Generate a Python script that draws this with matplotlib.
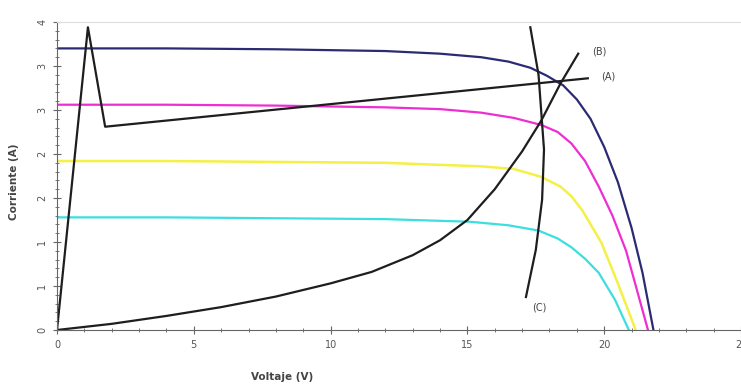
import matplotlib as mpl
mpl.use('agg')
import matplotlib.pyplot as plt
from matplotlib.ticker import MultipleLocator

# I-V curves of the panel at four irradiance levels
v_1000 = [0, 4, 8, 12, 14, 15.5, 16.5, 17.3, 17.9, 18.5, 19.0, 19.5, 20.0, 20.5, 21.0, 21.4, 21.8]
i_1000 = [3.20, 3.20, 3.19, 3.17, 3.14, 3.10, 3.05, 2.98, 2.89, 2.78, 2.62, 2.40, 2.08, 1.68, 1.16, 0.65, 0.0]

v_800 = [0, 4, 8, 12, 14, 15.5, 16.7, 17.7, 18.3, 18.8, 19.3, 19.8, 20.3, 20.8, 21.2, 21.6]
i_800 = [2.56, 2.56, 2.55, 2.53, 2.51, 2.47, 2.41, 2.33, 2.25, 2.12, 1.92, 1.63, 1.30, 0.90, 0.45, 0.0]

v_600 = [0, 4, 8, 12, 13.7, 15.5, 16.7, 17.7, 18.4, 18.8, 19.2, 19.9, 20.5, 21.15]
i_600 = [1.92, 1.92, 1.91, 1.90, 1.88, 1.86, 1.83, 1.74, 1.63, 1.52, 1.36, 0.99, 0.53, 0.0]

v_400 = [0, 4, 8, 12, 15.1, 16.5, 17.6, 18.3, 18.8, 19.3, 19.8, 20.4, 20.9]
i_400 = [1.28, 1.28, 1.27, 1.26, 1.23, 1.19, 1.13, 1.04, 0.94, 0.81, 0.65, 0.34, 0.0]

# operating trajectories (A), (B), (C)
v_a = [0, 1.13, 1.76, 19.4]
i_a = [0, 3.44, 2.31, 2.86]

v_b = [0, 2, 4, 6, 8, 10, 11.5, 13, 14, 15, 16, 17, 17.7, 18.4, 19.05]
i_b = [0, 0.07, 0.16, 0.26, 0.38, 0.53, 0.66, 0.85, 1.02, 1.25, 1.60, 2.03, 2.38, 2.80, 3.14]

v_c = [17.3, 17.6, 17.8, 17.73, 17.5, 17.14]
i_c = [3.44, 2.90, 2.05, 1.48, 0.91, 0.375]

y_ticks = [0, 0.5, 1, 1.5, 2, 2.5, 3, 3.5]
y_tick_labels = ["0", "1", "1", "2", "2", "3", "3", "4"]
x_ticks = [0, 5, 10, 15, 20, 25]
x_tick_labels = ["0", "5", "10", "15", "20", "25"]

fig = plt.figure(figsize=(7.41, 3.87), dpi=100)
ax = fig.add_axes([57 / 741, 57 / 387, 684 / 741, 308 / 387])

ax.plot(v_1000, i_1000, color='#2b2b73', lw=1.6)
ax.plot(v_800, i_800, color='#ee2ed2', lw=1.6)
ax.plot(v_600, i_600, color='#f4f046', lw=1.8)
ax.plot(v_400, i_400, color='#3cdede', lw=1.6)

ax.plot(v_a, i_a, color='#1e1e1e', lw=1.6)
ax.plot(v_b, i_b, color='#1e1e1e', lw=1.6)
ax.plot(v_c, i_c, color='#1e1e1e', lw=1.6)

txt = dict(fontsize=7, color='#444444', ha='left', va='center')
ax.text(19.55, 3.16, "(B)", **txt)
ax.text(19.9, 2.88, "(A)", **txt)
ax.text(17.35, 0.26, "(C)", **txt)

ax.set_xlim(0, 25)
ax.set_ylim(0, 3.5)

ax.set_xticks(x_ticks)
ax.set_xticklabels(x_tick_labels)
ax.set_yticks(y_ticks)
ax.set_yticklabels(y_tick_labels, rotation=90, va='center')
ax.xaxis.set_minor_locator(MultipleLocator(1))
ax.yaxis.set_minor_locator(MultipleLocator(0.1))

ax.tick_params(which='major', direction='inout', length=6, width=0.8,
               colors='#666666', labelsize=7, labelcolor='#555555', pad=4)
ax.tick_params(which='minor', direction='inout', length=3.5, width=0.7, colors='#777777')

for side in ['right']:
    ax.spines[side].set_visible(False)
ax.spines['top'].set_color('#dddddd')
ax.spines['left'].set_color('#666666')
ax.spines['bottom'].set_color('#666666')

ax.set_xlabel("Voltaje (V)", fontsize=7.5, fontweight='bold', color='#444444')
ax.xaxis.set_label_coords(0.329, -0.135)
ax.set_ylabel("Corriente (A)", fontsize=7.5, fontweight='bold', color='#444444')
ax.yaxis.set_label_coords(-0.055, 0.48)

plt.savefig("out.png", dpi=100)
